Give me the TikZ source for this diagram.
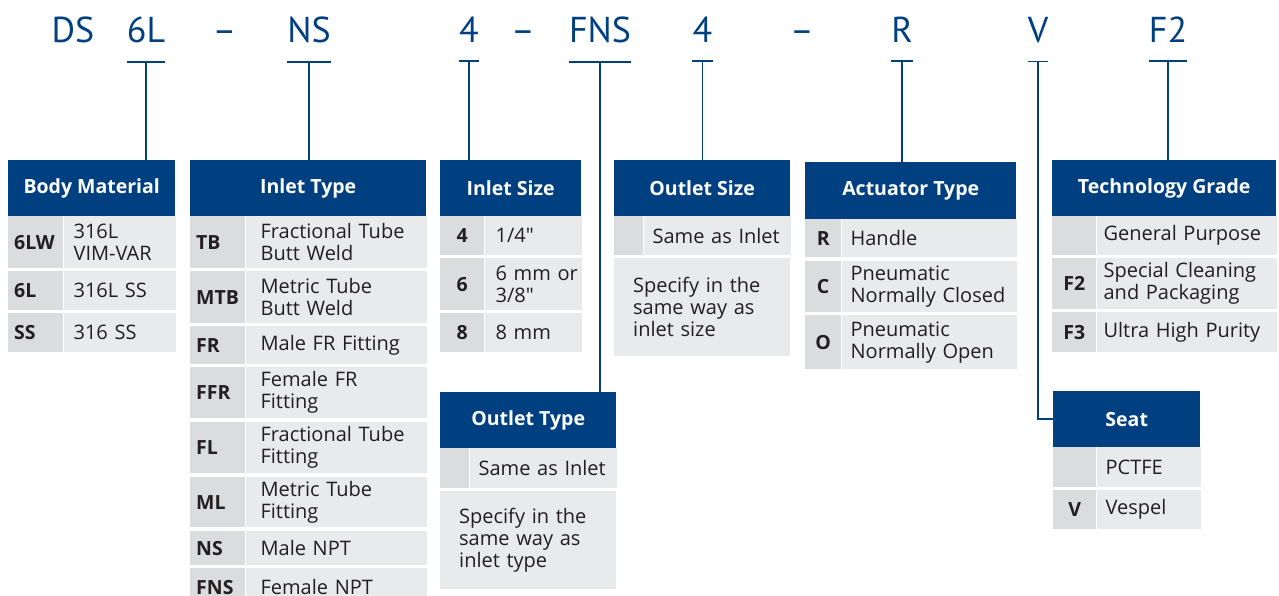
\documentclass[tikz,border=0pt]{standalone}
\usepackage{fontspec}
\setmainfont{Open Sans}
\newfontfamily\codefont{PT Sans}
\usepackage{tikz}
\usetikzlibrary{positioning}

\definecolor{swblue}{RGB}{0,64,128}
\definecolor{rowgray}{RGB}{233,234,236}
\definecolor{keygray}{RGB}{219,220,222}
\definecolor{txtdark}{RGB}{35,31,32}

\tikzset{
    code/.style={text=swblue, font=\codefont\fontsize{36}{36}\selectfont, inner sep=0pt, anchor=base},
    head/.style={fill=swblue, text=white, font=\bfseries\fontsize{19.5}{22}\selectfont, inner sep=0pt, minimum height=56pt, anchor=north west},
    key/.style={fill=keygray, text=txtdark, font=\bfseries\fontsize{19.5}{22}\selectfont, inner sep=0pt, anchor=north west},
    keyl/.style={key, inner xsep=6pt, text width=43pt, align=left},
    val/.style={fill=rowgray, text=txtdark, font=\fontsize{20}{22}\selectfont, inner xsep=10pt, inner ysep=0pt, align=left, anchor=north west},
    link/.style={draw=swblue, line width=1.8pt},
}

\begin{document}
\begin{tikzpicture}[x=1pt, y=-1pt]
                \useasboundingbox (0,0) rectangle (1279,596);
                % Nodes
                \node[code] (DS) at (73,43) {DS};
                \node[code] (6L) at (146,43) {6L};
                \node[code] (d1) at (224.5,43) {–};
                \node[code] (NS) at (309,43) {NS};
                \node[code] (4) at (469,43) {4};
                \node[code] (d2) at (523,43) {–};
                \node[code] (FNS) at (600,43) {FNS};
                \node[code] (4o) at (702.5,43) {4};
                \node[code] (d3) at (802,43) {–};
                \node[code] (R) at (902,43) {R};
                \node[code] (V) at (1038,43) {V};
                \node[code] (F2) at (1168,43) {F2};

                % Body Material
                \node[head, minimum width=167pt] (bodymat) at (8,160) {Body Material};
                \node[keyl, minimum height=52pt] (k6LW) at (8,216) {6LW};
                \node[val, text width=92pt, minimum height=52pt, right=0pt of k6LW] (v6LW) {316L\\VIM-VAR};
                \node[keyl, minimum height=39pt] (k6L) at (8,271) {6L};
                \node[val, text width=92pt, minimum height=39pt, right=0pt of k6L] (v6L) {316L~SS};
                \node[keyl, minimum height=39pt] (kSS) at (8,313) {SS};
                \node[val, text width=92pt, minimum height=39pt, right=0pt of kSS] (vSS) {316~SS};

                % Inlet Type
                \node[head, minimum width=236pt] (inlettype) at (190,160) {Inlet Type};
                \node[keyl, minimum height=52pt] (kTB) at (190,216) {TB};
                \node[val, inner xsep=15pt, text width=151pt, minimum height=52pt, right=0pt of kTB] (vTB) {Fractional~Tube\\Butt~Weld};
                \node[keyl, minimum height=52pt] (kMTB) at (190,271) {MTB};
                \node[val, inner xsep=15pt, text width=151pt, minimum height=52pt, right=0pt of kMTB] (vMTB) {Metric~Tube\\Butt~Weld};
                \node[keyl, minimum height=38pt] (kFR) at (190,326) {FR};
                \node[val, inner xsep=15pt, text width=151pt, minimum height=38pt, right=0pt of kFR] (vFR) {Male~FR~Fitting};
                \node[keyl, minimum height=51pt] (kFFR) at (190,367) {FFR};
                \node[val, inner xsep=15pt, text width=151pt, minimum height=51pt, right=0pt of kFFR] (vFFR) {Female~FR\\Fitting};
                \node[keyl, minimum height=51pt] (kFL) at (190,422) {FL};
                \node[val, inner xsep=15pt, text width=151pt, minimum height=51pt, right=0pt of kFL] (vFL) {Fractional~Tube\\Fitting};
                \node[keyl, minimum height=50pt] (kML) at (190,477) {ML};
                \node[val, inner xsep=15pt, text width=151pt, minimum height=50pt, right=0pt of kML] (vML) {Metric~Tube\\Fitting};
                \node[keyl, minimum height=34pt] (kNS) at (190,531) {NS};
                \node[val, inner xsep=15pt, text width=151pt, minimum height=34pt, right=0pt of kNS] (vNS) {Male~NPT};
                \node[keyl, minimum height=38pt] (kFNS) at (190,568) {FNS};
                \node[val, inner xsep=15pt, text width=151pt, minimum height=38pt, right=0pt of kFNS] (vFNS) {Female~NPT};

                % Inlet Size
                \node[head, minimum width=141pt] (inletsize) at (440,160) {Inlet Size};
                \node[key, minimum width=44pt, minimum height=39pt] (k4) at (440,216) {4};
                \node[val, inner xsep=11pt, text width=75pt, minimum height=39pt, right=0pt of k4] (v4) {1/4\textquotedbl};
                \node[key, minimum width=44pt, minimum height=52pt] (k6) at (440,258) {6};
                \node[val, inner xsep=11pt, text width=75pt, minimum height=52pt, right=0pt of k6] (v6) {6~mm~or\\3/8\textquotedbl};
                \node[key, minimum width=44pt, minimum height=39pt] (k8) at (440,313) {8};
                \node[val, inner xsep=11pt, text width=75pt, minimum height=39pt, right=0pt of k8] (v8) {8~mm};

                % Outlet Type
                \node[head, minimum width=176pt] (outtype) at (440,392) {Outlet Type};
                \node[key, minimum width=29pt, minimum height=40pt] (kot) at (440,448) {};
                \node[val, inner xsep=9pt, text width=129pt, minimum height=40pt, right=0pt of kot] (vot) {Same~as~Inlet};
                \node[val, inner xsep=19pt, text width=138pt, minimum height=98pt] (otspec) at (440,491) {Specify in the\\same way as\\inlet type};

                % Outlet Size
                \node[head, minimum width=176pt] (outsize) at (614,160) {Outlet Size};
                \node[key, minimum width=29pt, minimum height=39pt] (kos) at (614,216) {};
                \node[val, inner xsep=9pt, text width=129pt, minimum height=39pt, right=0pt of kos] (vos) {Same~as~Inlet};
                \node[val, inner xsep=19pt, text width=138pt, minimum height=98pt] (osspec) at (614,258) {Specify in the\\same way as\\inlet size};

                % Actuator Type
                \node[head, minimum width=211pt, minimum height=57pt] (acttype) at (805,162) {Actuator Type};
                \node[key, minimum width=36pt, minimum height=38pt] (kR) at (805,219) {R};
                \node[val, inner xsep=9pt, text width=157pt, minimum height=38pt, right=0pt of kR] (vR) {Handle};
                \node[key, minimum width=36pt, minimum height=51pt] (kC) at (805,261) {C};
                \node[val, inner xsep=9pt, text width=157pt, minimum height=51pt, right=0pt of kC] (vC) {Pneumatic\\Normally~Closed};
                \node[key, minimum width=36pt, minimum height=54pt] (kO) at (805,315) {O};
                \node[val, inner xsep=9pt, text width=157pt, minimum height=54pt, right=0pt of kO] (vO) {Pneumatic\\Normally~Open};

                % Technology Grade
                \node[head, minimum width=224pt] (techgrade) at (1052,160) {Technology Grade};
                \node[key, minimum width=44pt, minimum height=39pt] (ktg) at (1052,216) {};
                \node[val, inner xsep=7pt, text width=166pt, minimum height=39pt, right=0pt of ktg] (vtg) {General~Purpose};
                \node[key, minimum width=44pt, minimum height=51pt] (kF2) at (1052,258) {F2};
                \node[val, inner xsep=7pt, text width=166pt, minimum height=51pt, right=0pt of kF2] (vF2) {Special~Cleaning\\and~Packaging};
                \node[key, minimum width=44pt, minimum height=40pt] (kF3) at (1052,312) {F3};
                \node[val, inner xsep=7pt, text width=166pt, minimum height=40pt, right=0pt of kF3] (vF3) {Ultra~High~Purity};

                % Seat
                \node[head, minimum width=147pt] (seat) at (1053,391) {Seat};
                \node[key, minimum width=43pt, minimum height=40pt] (kst) at (1053,447) {};
                \node[val, inner xsep=9pt, text width=86pt, minimum height=40pt, right=0pt of kst] (vst) {PCTFE};
                \node[key, minimum width=43pt, minimum height=39pt] (kV) at (1053,490) {V};
                \node[val, inner xsep=9pt, text width=86pt, minimum height=39pt, right=0pt of kV] (vV) {Vespel};

                % Edges
                \draw[link] ([yshift=-18pt]6L.south west) -- ([yshift=-18pt]6L.south east) ([yshift=-18pt]6L.south) -- (6L.south |- bodymat.north);
                \draw[link] ([yshift=-18pt]NS.south west) -- ([yshift=-18pt]NS.south east) ([yshift=-18pt]NS.south) -- (NS.south |- inlettype.north);
                \draw[link] ([yshift=-18pt]4.south west) -- ([yshift=-18pt]4.south east) ([yshift=-18pt]4.south) -- (4.south |- inletsize.north);
                \draw[link] ([yshift=-18pt]FNS.south west) -- ([yshift=-18pt]FNS.south east) ([yshift=-18pt]FNS.south) -- (FNS.south |- outtype.north);
                \draw[link] ([yshift=-18pt]4o.south west) -- ([yshift=-18pt]4o.south east) ([yshift=-18pt]4o.south) -- (4o.south |- outsize.north);
                \draw[link] ([yshift=-18pt]R.south west) -- ([yshift=-18pt]R.south east) ([yshift=-18pt]R.south) -- (R.south |- acttype.north);
                \draw[link] ([yshift=-18pt]V.south west) -- ([yshift=-18pt]V.south east) ([yshift=-18pt]V.south) |- (seat.west);
                \draw[link] ([yshift=-18pt]F2.south west) -- ([yshift=-18pt]F2.south east) ([yshift=-18pt]F2.south) -- (F2.south |- techgrade.north);
\end{tikzpicture}
\end{document}
